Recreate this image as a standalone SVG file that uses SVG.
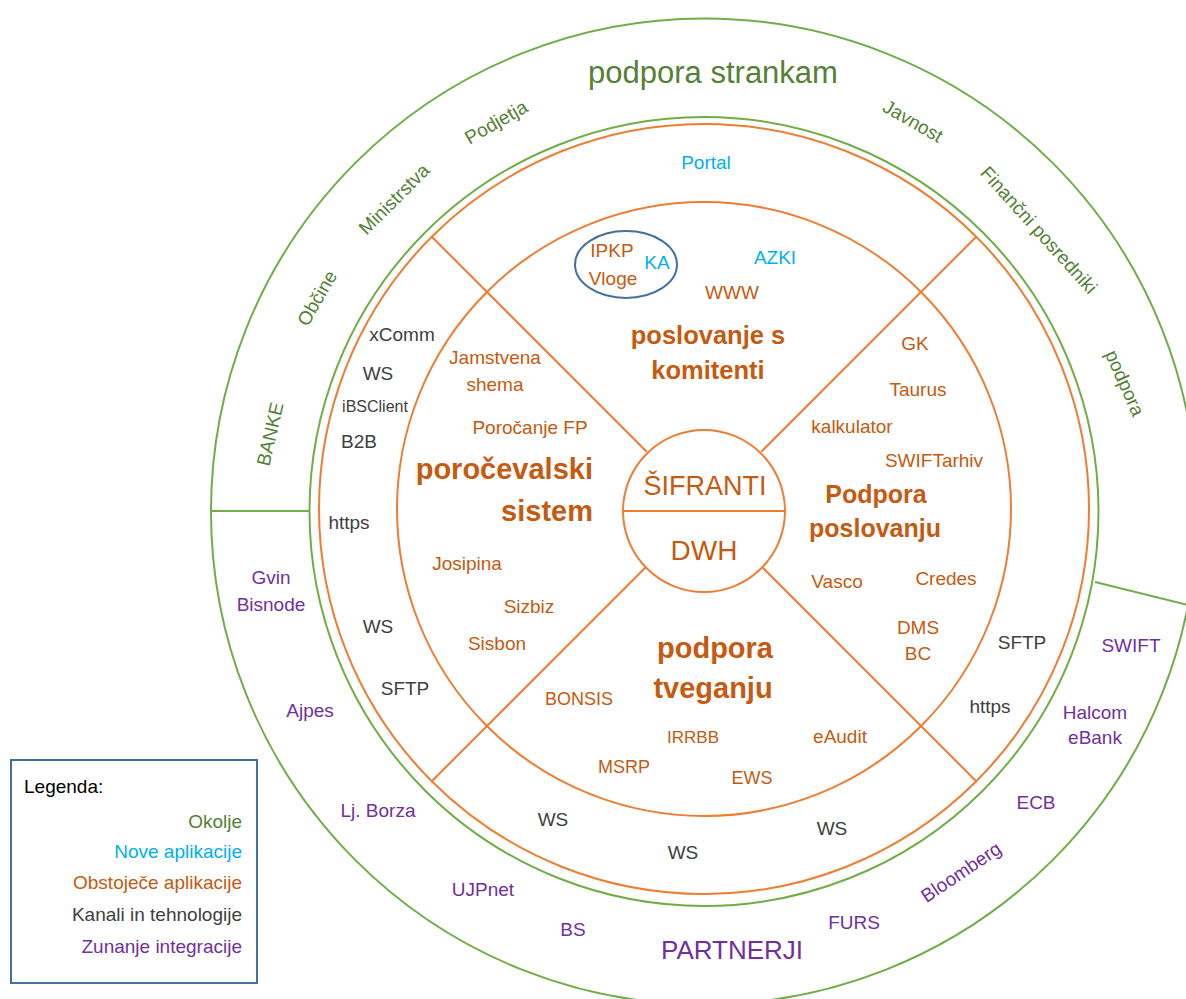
<svg xmlns="http://www.w3.org/2000/svg" width="1186" height="999" viewBox="0 0 1186 999">
<style>
text{font-family:"Liberation Sans",Arial,sans-serif;font-size:19px;text-anchor:middle}
.g{fill:#538135}.b{fill:#00B0F0}.o{fill:#C55A11}.k{fill:#404040}.p{fill:#7030A0}
.hb{font-weight:bold}
.gl{fill:none;stroke:#70AD47;stroke-width:2}
.ol{fill:none;stroke:#ED7D31;stroke-width:2}
.bl{fill:none;stroke:#41719C;stroke-width:2}
</style>
<rect width="1186" height="999" fill="#fff"/>
<g id="rings">
<circle class="gl" cx="704" cy="511.5" r="493"/>
<circle class="gl" cx="704" cy="511.5" r="394.5"/>
<circle class="ol" cx="704" cy="509" r="385"/>
<circle class="ol" cx="704" cy="509" r="307"/>
</g>
<g id="connectors">
<line class="gl" x1="212" y1="511" x2="310" y2="511"/>
<line class="gl" x1="1095" y1="582" x2="1192" y2="606"/>
<line class="ol" x1="431.8" y1="236.8" x2="646.7" y2="451.7"/>
<line class="ol" x1="976.2" y1="236.8" x2="761.3" y2="451.7"/>
<line class="ol" x1="431.8" y1="781.2" x2="646.7" y2="566.3"/>
<line class="ol" x1="976.2" y1="781.2" x2="761.3" y2="566.3"/>
</g>
<g id="core">
<circle cx="704" cy="511" r="81" fill="#fff" stroke="#ED7D31" stroke-width="2"/>
<line class="ol" x1="623" y1="511" x2="785" y2="511"/>
<text class="o" x="705" y="495" style="font-size:27px">ŠIFRANTI</text>
<text class="o" x="704" y="560" style="font-size:28px">DWH</text>
</g>
<g id="okolje">
<text class="g" x="713" y="83" style="font-size:31px">podpora strankam</text>
<text class="g" x="496" y="122" dy="0.35em" transform="rotate(-30 496 122)">Podjetja</text>
<text class="g" x="394" y="199" dy="0.35em" transform="rotate(-45 394 199)">Ministrstva</text>
<text class="g" x="317" y="298" dy="0.35em" transform="rotate(-60 317 298)">Občine</text>
<text class="g" x="270" y="434" dy="0.35em" transform="rotate(-77 270 434)">BANKE</text>
<text class="g" x="913" y="121" dy="0.35em" transform="rotate(30 913 121)">Javnost</text>
<text class="g" x="1039" y="230" dy="0.35em" transform="rotate(48 1039 230)">Finančni posredniki</text>
<text class="g" x="1125" y="383" dy="0.35em" transform="rotate(66 1125 383)">podpora</text>
</g>
<g id="poslovanje-s-komitenti">
<text class="b" x="706" y="169">Portal</text>
<ellipse class="bl" cx="626" cy="264.5" rx="51" ry="33.5"/>
<text class="o" x="612" y="257">IPKP</text>
<text class="o" x="613" y="285">Vloge</text>
<text class="b" x="657" y="269">KA</text>
<text class="b" x="775" y="264">AZKI</text>
<text class="o" x="732" y="299">WWW</text>
<text class="o hb" x="708" y="344" style="font-size:25.5px">poslovanje s</text>
<text class="o hb" x="708" y="379" style="font-size:25.5px">komitenti</text>
</g>
<g id="podpora-poslovanju">
<text class="o" x="915" y="350">GK</text>
<text class="o" x="918" y="396">Taurus</text>
<text class="o" x="852" y="433">kalkulator</text>
<text class="o" x="934" y="467">SWIFTarhiv</text>
<text class="o hb" x="876" y="503" style="font-size:25px">Podpora</text>
<text class="o hb" x="875" y="537" style="font-size:25px">poslovanju</text>
<text class="o" x="837" y="588">Vasco</text>
<text class="o" x="946" y="585">Credes</text>
<text class="o" x="918" y="634">DMS</text>
<text class="o" x="918" y="660">BC</text>
</g>
<g id="porocevalski-sistem">
<text class="o" x="495" y="364">Jamstvena</text>
<text class="o" x="495" y="391">shema</text>
<text class="o" x="530" y="434">Poročanje FP</text>
<text class="o hb" x="593" y="479" style="font-size:29px;text-anchor:end">poročevalski</text>
<text class="o hb" x="593" y="521" style="font-size:29px;text-anchor:end">sistem</text>
<text class="o" x="467" y="570">Josipina</text>
<text class="o" x="529" y="613">Sizbiz</text>
<text class="o" x="497" y="650">Sisbon</text>
</g>
<g id="podpora-tveganju">
<text class="o hb" x="715" y="658" style="font-size:29px">podpora</text>
<text class="o hb" x="713" y="698" style="font-size:29px">tveganju</text>
<text class="o" x="579" y="705" style="font-size:18px">BONSIS</text>
<text class="o" x="693" y="743" style="font-size:17px">IRRBB</text>
<text class="o" x="840" y="743">eAudit</text>
<text class="o" x="624" y="773" style="font-size:18px">MSRP</text>
<text class="o" x="752" y="784" style="font-size:18px">EWS</text>
</g>
<g id="kanali">
<text class="k" x="402" y="341">xComm</text>
<text class="k" x="378" y="380">WS</text>
<text class="k" x="375" y="412" style="font-size:16px">iBSClient</text>
<text class="k" x="359" y="448">B2B</text>
<text class="k" x="349" y="529">https</text>
<text class="k" x="378" y="633">WS</text>
<text class="k" x="405" y="695">SFTP</text>
<text class="k" x="553" y="826">WS</text>
<text class="k" x="683" y="859">WS</text>
<text class="k" x="832" y="835">WS</text>
<text class="k" x="1022" y="649">SFTP</text>
<text class="k" x="990" y="713">https</text>
</g>
<g id="partnerji">
<text class="p" x="271" y="584">Gvin</text>
<text class="p" x="271" y="611">Bisnode</text>
<text class="p" x="310" y="717">Ajpes</text>
<text class="p" x="378" y="817">Lj. Borza</text>
<text class="p" x="483" y="896">UJPnet</text>
<text class="p" x="573" y="936">BS</text>
<text class="p" x="732" y="959" style="font-size:26px">PARTNERJI</text>
<text class="p" x="854" y="929">FURS</text>
<text class="p" x="961" y="872" dy="0.35em" transform="rotate(-34 961 872)">Bloomberg</text>
<text class="p" x="1036" y="809">ECB</text>
<text class="p" x="1095" y="719">Halcom</text>
<text class="p" x="1095" y="744">eBank</text>
<text class="p" x="1131" y="652">SWIFT</text>
</g>
<g id="legenda">
<rect x="11" y="760" width="246" height="223" fill="#fff" stroke="#41719C" stroke-width="2"/>
<text x="24" y="793" style="text-anchor:start;fill:#000">Legenda:</text>
<text class="g" x="242" y="828" style="text-anchor:end">Okolje</text>
<text class="b" x="242" y="858" style="text-anchor:end">Nove aplikacije</text>
<text class="o" x="242" y="889" style="text-anchor:end">Obstoječe aplikacije</text>
<text class="k" x="242" y="921" style="text-anchor:end">Kanali in tehnologije</text>
<text class="p" x="242" y="953" style="text-anchor:end">Zunanje integracije</text>
</g>
</svg>
